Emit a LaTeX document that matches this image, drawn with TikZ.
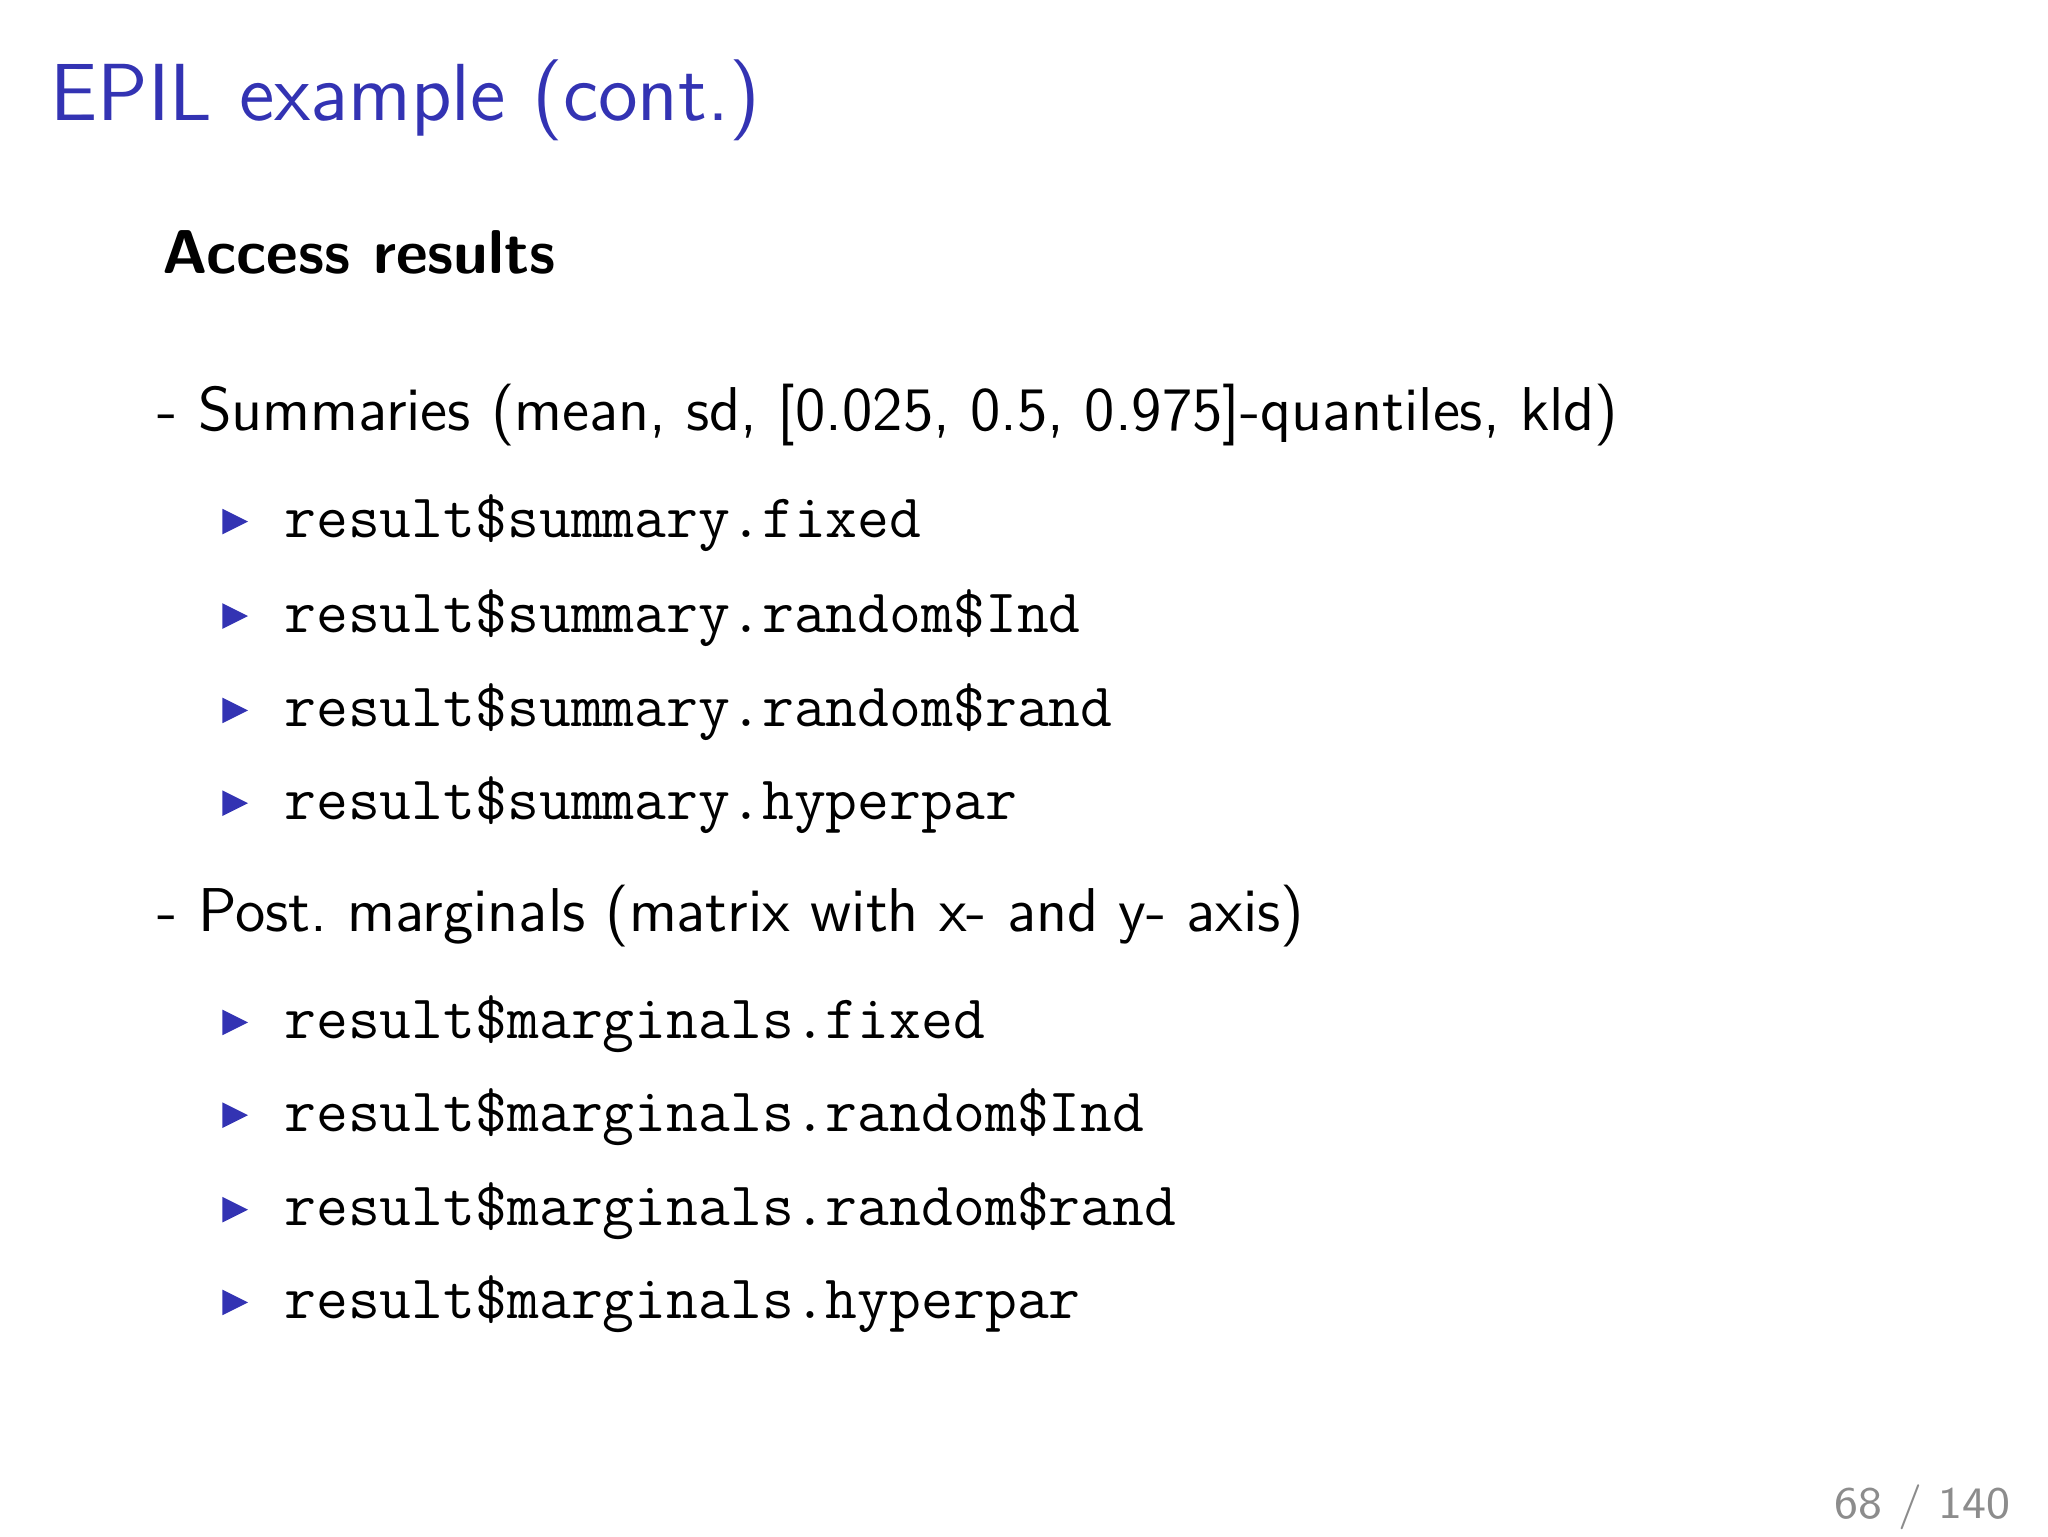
\documentclass[tikz,border=0pt]{standalone}
\usepackage{tikz}
\usetikzlibrary{calc}
\definecolor{slideblue}{RGB}{51,51,179}

\begin{document}
\begin{tikzpicture}[
    every node/.style={inner sep=0pt, anchor=base west},
    plain/.style={font=\fontsize{11}{13}\selectfont\sffamily},
    code/.style={font=\fontsize{11}{13}\selectfont\ttfamily},
    bullet/.style={fill=slideblue}
  ]
                \useasboundingbox (0,0) rectangle (12.8,9.6);
                \node[font=\fontsize{14.4}{17}\selectfont\sffamily, text=slideblue] (title) at (0.31,8.85) {EPIL example (cont.)};
                \node[plain, font=\fontsize{11}{13}\selectfont\sffamily\bfseries] (access) at (1.01,7.89) {Access results};
                \node[plain] (summ) at (0.98,6.91) {- Summaries (mean, sd, [0.025, 0.5, 0.975]-quantiles, kld)};
                \node[code] (s1) at (1.77,6.24) {result\$summary.fixed};
                \node[code] (s2) at (1.77,5.65) {result\$summary.random\$Ind};
                \node[code] (s3) at (1.77,5.06) {result\$summary.random\$rand};
                \node[code] (s4) at (1.77,4.48) {result\$summary.hyperpar};
                \node[plain] (post) at (0.98,3.78) {- Post.\ marginals (matrix with x- and y- axis)};
                \node[code] (m1) at (1.77,3.11) {result\$marginals.fixed};
                \node[code] (m2) at (1.77,2.53) {result\$marginals.random\$Ind};
                \node[code] (m3) at (1.77,1.94) {result\$marginals.random\$rand};
                \node[code] (m4) at (1.77,1.36) {result\$marginals.hyperpar};
                \foreach \n in {s1,s2,s3,s4,m1,m2,m3,m4}
                    \fill[bullet] ($(\n.base west)+(-0.38,0.02)$) -- ++(0,0.16) -- ++(0.16,-0.08) -- cycle;
                \node[font=\fontsize{8}{10}\selectfont\sffamily, text=black!45, anchor=base east] (page) at (12.57,0.11) {68 / 140};
\end{tikzpicture}
\end{document}
